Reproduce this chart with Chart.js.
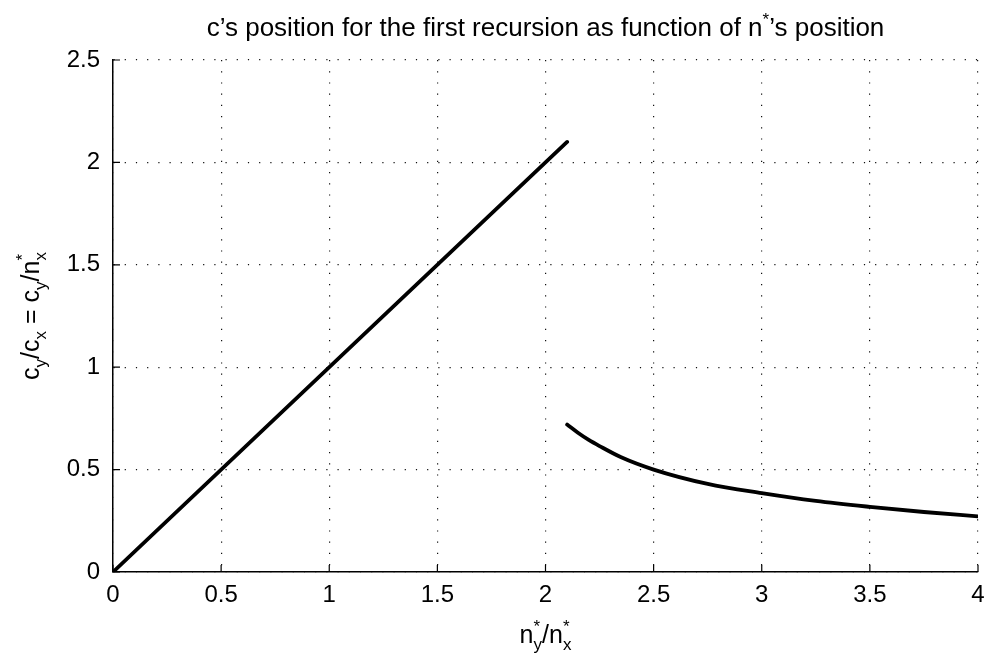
<!DOCTYPE html>
<html>
<head>
<meta charset="utf-8">
<script src="https://cdn.jsdelivr.net/npm/chart.js@4"></script>
<style>
  html, body { margin: 0; padding: 0; background: #fff; }
  .chart-container { position: relative; width: 986px; height: 660px; }
</style>
</head>
<body>
<div class="chart-container">
  <canvas id="recursion-chart"></canvas>
</div>
<script>
// straight part, c follows n* one to one
const lineX = [0, 2.1];
const lineY = [0, 2.1];

// falling part after the jump
const curveX = [2.1, 2.15, 2.2, 2.25, 2.35, 2.5, 2.75, 3, 3.25, 3.5, 3.75, 4];
const curveY = [0.72, 0.68, 0.645, 0.615, 0.56, 0.5, 0.43, 0.385, 0.347, 0.318, 0.293, 0.272];

const xTicks = [0, 0.5, 1, 1.5, 2, 2.5, 3, 3.5, 4];
const xTickLabels = ['0', '0.5', '1', '1.5', '2', '2.5', '3', '3.5', '4'];
const yTicks = [0, 0.5, 1, 1.5, 2, 2.5];
const yTickLabels = ['0', '0.5', '1', '1.5', '2', '2.5'];

const titleText = [{ t: 'c\u2019s position for the first recursion as function of n' }, { sup: '*' }, { t: '\u2019s position' }];
const xTitleText = [{ t: 'n' }, { sup: '*', sub: 'y' }, { t: '/n' }, { sup: '*', sub: 'x' }];
const yTitleText = [{ t: 'c' }, { sub: 'y' }, { t: '/c' }, { sub: 'x' }, { t: ' = c' }, { sub: 'y' }, { t: '/n' }, { sup: '*', sub: 'x' }];

const FAMILY = '"Liberation Sans", Arial, Helvetica, sans-serif';
const SMALL = '17px ' + FAMILY;

function toPoints(xs, ys) {
  return xs.map((x, i) => ({ x: x, y: ys[i] }));
}

// draws text with sub/superscripts, centred on (x, y) baseline
function drawRich(ctx, segs, x, y, angle, size) {
  const big = size + 'px ' + FAMILY;
  ctx.save();
  ctx.translate(x, y);
  ctx.rotate(angle || 0);
  ctx.fillStyle = '#000';
  ctx.textBaseline = 'alphabetic';
  ctx.textAlign = 'left';
  const widths = segs.map(s => {
    if (s.t) { ctx.font = big; return ctx.measureText(s.t).width; }
    ctx.font = SMALL;
    return Math.max(s.sub ? ctx.measureText(s.sub).width : 0, s.sup ? ctx.measureText(s.sup).width : 0);
  });
  let cx = -widths.reduce((a, b) => a + b, 0) / 2;
  segs.forEach((s, i) => {
    if (s.t) {
      ctx.font = big;
      ctx.fillText(s.t, cx, 0);
    } else {
      ctx.font = SMALL;
      if (s.sub) ctx.fillText(s.sub, cx, 7);
      if (s.sup) ctx.fillText(s.sup, cx, -11);
    }
    cx += widths[i];
  });
  ctx.restore();
}

const labelsPlugin = {
  id: 'richLabels',
  afterDraw(chart) {
    const ctx = chart.ctx;
    const area = chart.chartArea;
    const xs = chart.scales.x;
    const ys = chart.scales.y;

    // small inward tick marks
    ctx.save();
    ctx.strokeStyle = '#000';
    ctx.lineWidth = 1.2;
    ctx.beginPath();
    xTicks.forEach(v => {
      const px = xs.getPixelForValue(v);
      ctx.moveTo(px, area.bottom);
      ctx.lineTo(px, area.bottom - 7);
    });
    yTicks.forEach(v => {
      const py = ys.getPixelForValue(v);
      ctx.moveTo(area.left, py);
      ctx.lineTo(area.left + 7, py);
    });
    ctx.stroke();
    ctx.restore();

    const midX = (area.left + area.right) / 2;
    const midY = (area.top + area.bottom) / 2;
    drawRich(ctx, titleText, midX, 36, 0, 26);
    drawRich(ctx, xTitleText, midX, 643, 0, 25);
    drawRich(ctx, yTitleText, 39, midY, -Math.PI / 2, 25);
  }
};

const ctx = document.getElementById('recursion-chart');

new Chart(ctx, {
  type: 'scatter',
  data: {
    datasets: [
      {
        label: 'linear',
        data: toPoints(lineX, lineY),
        showLine: true,
        borderColor: '#000',
        borderWidth: 3.8,
        pointRadius: 0,
        borderCapStyle: 'round'
      },
      {
        label: 'curve',
        data: toPoints(curveX, curveY),
        showLine: true,
        borderColor: '#000',
        borderWidth: 3.8,
        pointRadius: 0,
        borderCapStyle: 'round',
        borderJoinStyle: 'round',
        cubicInterpolationMode: 'monotone'
      }
    ]
  },
  options: {
    responsive: true,
    maintainAspectRatio: false,
    animation: false,
    layout: {
      padding: { left: 0, top: 60, right: 8, bottom: 0 }
    },
    plugins: {
      legend: { display: false },
      title: { display: false },
      tooltip: { enabled: false }
    },
    scales: {
      x: {
        type: 'linear',
        min: 0,
        max: 4,
        afterFit: scale => {
          scale.height = 88;
          scale.paddingLeft = 0;
          scale.paddingRight = 0;
        },
        afterBuildTicks: scale => { scale.ticks = xTicks.map(v => ({ value: v })); },
        ticks: {
          color: '#000',
          font: { family: FAMILY, size: 24 },
          padding: 9,
          maxRotation: 0,
          callback: (v, i) => xTickLabels[i]
        },
        grid: {
          color: '#111',
          lineWidth: 1.2,
          drawTicks: false
        },
        border: {
          display: true,
          color: '#000',
          width: 1.5,
          dash: [1.2, 10]
        }
      },
      y: {
        type: 'linear',
        min: 0,
        max: 2.5,
        afterFit: scale => {
          scale.width = 113;
          scale.paddingTop = 0;
          scale.paddingBottom = 0;
        },
        afterBuildTicks: scale => { scale.ticks = yTicks.map(v => ({ value: v })); },
        ticks: {
          color: '#000',
          font: { family: FAMILY, size: 24 },
          padding: 13,
          callback: (v, i) => yTickLabels[i]
        },
        grid: {
          color: '#111',
          lineWidth: 1.2,
          drawTicks: false
        },
        border: {
          display: true,
          color: '#000',
          width: 1.5,
          dash: [1.2, 10]
        }
      }
    }
  },
  plugins: [labelsPlugin]
});
</script>
</body>
</html>
